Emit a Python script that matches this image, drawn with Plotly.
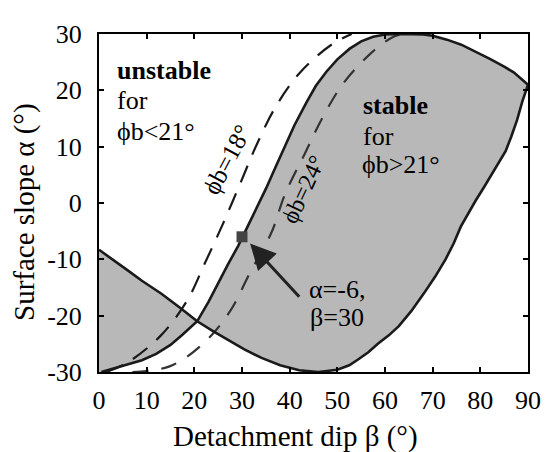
import plotly.graph_objects as go

# ---- data ----
# S-shaped envelope branch (left branch, continuing over the top to beta=90)
s_beta = [0.5, 3, 6, 9, 12, 15, 17.5, 20.6, 23, 25, 27, 29.2, 31, 33, 35, 37, 39, 41, 43.5, 45.5,
          47.7, 50, 52.6, 55, 57.5, 60, 63, 66, 68, 70, 73, 76, 79, 82, 85, 87, 90]
s_alpha = [-30, -29.4, -28.6, -27.9, -26.8, -25.2, -23.4, -21.0, -17.5, -14.2, -11, -7.6, -4.5, -1.2, 2.5,
           6.3, 10, 13.8, 17.8, 20.8, 23.3, 25.5, 27.4, 28.7, 29.5, 29.9, 30, 30, 29.9, 29.7, 29, 28.1,
           26.9, 25.6, 24.2, 23.2, 21]
# descending / lower-right envelope branch (from beta=0 round the bottom to beta=90)
r_beta = [0, 3, 6.1, 9, 13.1, 17, 20.6, 24, 27.1, 30.5, 34.1, 38, 42, 46, 50, 52.5, 54.5, 56.5, 58.5,
          60.8, 62.9, 65.5, 68.2, 70.5, 72.7, 74.4, 75.9, 77.5, 79, 80.7, 82.3, 83.9, 85.3, 86.5, 87.7,
          88.8, 90]
r_alpha = [-8.3, -10.2, -12, -13.8, -16.1, -18.6, -21.0, -22.8, -24.3, -26, -27.5, -28.8, -29.7, -30,
           -29.6, -28.8, -27.7, -26.5, -25, -23.5, -21.85, -19.2, -16, -13.1, -10, -7.2, -4.2, -1.8, 0.4,
           2.7, 5, 7.2, 9.2, 11.8, 14.7, 18, 21]
crossing = (20.6, -21.0)

# dashed envelopes
phi18_beta = [1.5, 6.0, 13.0, 18.5, 22.2, 26.0, 29.5, 33.0, 37.0, 42.0, 48.6, 53.0]
phi18_alpha = [-30.0, -28.3, -23.5, -17.3, -10.7, -3.7, 3.2, 10.2, 17.0, 23.0, 28.0, 30.0]
phi24_beta = [7.0, 14.8, 21.8, 27.5, 31.6, 36.2, 39.0, 43.2, 46.8, 51.3, 57.6, 62.0, 64.0]
phi24_alpha = [-30.0, -29.0, -25.0, -19.2, -12.5, -5.2, 1.5, 8.8, 15.0, 21.3, 27.0, 29.6, 30.0]

point_beta = [30]
point_alpha = [-6]

x_ticks = [0, 10, 20, 30, 40, 50, 60, 70, 80, 90]
x_ticktext = ["0", "10", "20", "30", "40", "50", "60", "70", "80", "90"]
y_ticks = [-30, -20, -10, 0, 10, 20, 30]
y_ticktext = ["-30", "-20", "-10", "0", "10", "20", "30"]

FONT = "Liberation Serif"
GRAY = "rgb(184,184,184)"
INK = "#1a1a1a"
PHI = "\u03d5"

# ---- shaded regions built from the curve arrays ----
ci_s = s_beta.index(crossing[0])
ci_r = r_beta.index(crossing[0])
tri_x = [0.0] + r_beta[:ci_r + 1] + s_beta[:ci_s][::-1] + [0.0]
tri_y = [-30.0] + r_alpha[:ci_r + 1] + s_alpha[:ci_s][::-1] + [-30.0]
band_x = s_beta[ci_s:] + r_beta[ci_r:][::-1]
band_y = s_alpha[ci_s:] + r_alpha[ci_r:][::-1]

fig = go.Figure()
for px_, py_ in [(tri_x, tri_y), (band_x, band_y)]:
    fig.add_trace(go.Scatter(x=px_, y=py_, mode="lines", fill="toself",
                             fillcolor=GRAY, line=dict(width=0), hoverinfo="skip",
                             showlegend=False))

fig.add_trace(go.Scatter(x=phi18_beta, y=phi18_alpha, mode="lines",
                         line=dict(color=INK, width=2.2, dash="18px,12px", shape="spline"),
                         showlegend=False))
fig.add_trace(go.Scatter(x=phi24_beta, y=phi24_alpha, mode="lines",
                         line=dict(color="#333", width=2.2, dash="16px,13px", shape="spline"),
                         showlegend=False))
fig.add_trace(go.Scatter(x=s_beta, y=s_alpha, mode="lines",
                         line=dict(color=INK, width=2.6), showlegend=False))
fig.add_trace(go.Scatter(x=r_beta, y=r_alpha, mode="lines",
                         line=dict(color=INK, width=2.6), showlegend=False))
fig.add_trace(go.Scatter(x=point_beta, y=point_alpha, mode="markers",
                         marker=dict(symbol="square", size=11, color="#444",
                                     line=dict(width=0)),
                         showlegend=False))

ann = []
def txt(x, y, t, size=26, **kw):
    d = dict(x=x, y=y, xref="x", yref="y", text=t, showarrow=False,
             font=dict(family=FONT, size=size, color="black"), xanchor="left", yanchor="middle")
    d.update(kw)
    ann.append(d)

txt(3.3, 23.6, "<b>unstable</b>")
txt(3.3, 18.2, "for")
txt(3.3, 12.7, PHI + "b&lt;21°")
txt(55.0, 17.3, "<b>stable</b>")
txt(55.0, 11.8, "for")
txt(54.8, 6.9, PHI + "b&gt;21°")
txt(43.6, -15.3, "α=-6,")
txt(43.8, -20.4, "β=30")
txt(26.8, 7.8, PHI + "b=18°", size=25, xanchor="center", textangle=-62)
txt(43.0, 2.4, PHI + "b=24°", size=24, xanchor="center", textangle=-65)

ann.append(dict(x=31.7, y=-7.2, ax=42.3, ay=-16.9, xref="x", yref="y", axref="x", ayref="y",
                text="", showarrow=True, arrowhead=2, arrowsize=1.7, arrowwidth=3,
                arrowcolor="#222"))

ann.append(dict(x=0.458, y=-0.19, xref="paper", yref="paper", text="Detachment dip β (°)",
                showarrow=False, font=dict(family=FONT, size=29, color="black"),
                xanchor="center", yanchor="middle"))
ann.append(dict(x=-0.172, y=0.474, xref="paper", yref="paper", text="Surface slope α (°)",
                showarrow=False, font=dict(family=FONT, size=29, color="black"),
                xanchor="center", yanchor="middle", textangle=-90))

axis_common = dict(showline=True, linecolor="black", linewidth=2, mirror="ticks",
                   ticks="inside", ticklen=5, tickwidth=1.5, tickcolor="black",
                   showgrid=False, zeroline=False,
                   tickfont=dict(family=FONT, size=26, color="black"))

fig.update_layout(
    width=552, height=452,
    margin=dict(l=91, r=32, t=24, b=88),
    font=dict(family=FONT),
    paper_bgcolor="white", plot_bgcolor="white",
    xaxis=dict(range=[0, 90], tickvals=x_ticks, ticktext=x_ticktext,
               ticklabelstandoff=4, **axis_common),
    yaxis=dict(range=[-30, 30], tickvals=y_ticks, ticktext=y_ticktext,
               ticklabelstandoff=10, **axis_common),
    annotations=ann,
    showlegend=False,
)

fig.write_html("out.html")
